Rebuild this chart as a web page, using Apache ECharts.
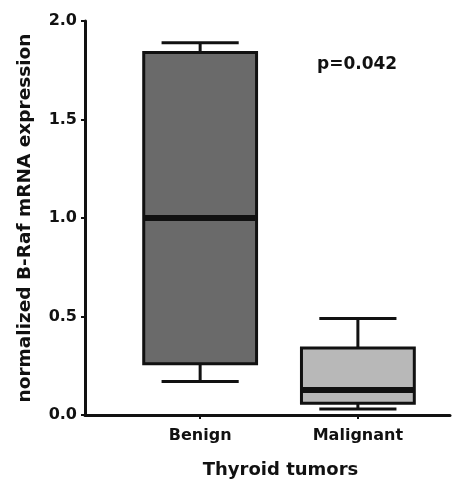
<!DOCTYPE html>
<html>
<head>
<meta charset="utf-8">
<script src="https://cdn.jsdelivr.net/npm/echarts@6/dist/echarts.min.js"></script>
<style>
  html, body { margin: 0; padding: 0; background: #fff; }
  #chart { width: 464px; height: 480px; }
</style>
</head>
<body>
<div id="chart"></div>
<script>
var groups = ['Benign', 'Malignant'];
// position of each group along the x axis (data units)
var groupPos = [1, 2.37];
// min, Q1, median, Q3, max
var benignBox = [0.17, 0.26, 1.0, 1.84, 1.89];
var malignantBox = [0.03, 0.06, 0.127, 0.34, 0.49];
var boxColors = ['#6a6a6a', '#b8b8b8'];
var yTicks = [0, 0.5, 1.0, 1.5, 2.0];

(function () {
    var myChart = echarts.init(document.getElementById('chart'));
    var font = 'DejaVu Sans';
    var boxes = [benignBox, malignantBox];
    var data = boxes.map(function (b, i) {
        return [groupPos[i]].concat(b);
    });

    function renderBox(params, api) {
        var x = api.value(0);
        var lo = api.coord([x, api.value(1)]);
        var q1 = api.coord([x, api.value(2)]);
        var med = api.coord([x, api.value(3)]);
        var q3 = api.coord([x, api.value(4)]);
        var hi = api.coord([x, api.value(5)]);
        var unit = api.size([1, 0])[0];
        var bw = unit * 0.98;
        var cw = unit * 0.67;
        var cx = q1[0];
        var line = { stroke: '#111', lineWidth: 3 };
        return {
            type: 'group',
            children: [
                { type: 'line', shape: { x1: cx, y1: q3[1], x2: cx, y2: hi[1] }, style: line },
                { type: 'line', shape: { x1: cx - cw / 2, y1: hi[1], x2: cx + cw / 2, y2: hi[1] }, style: line },
                { type: 'line', shape: { x1: cx, y1: q1[1], x2: cx, y2: lo[1] }, style: line },
                { type: 'line', shape: { x1: cx - cw / 2, y1: lo[1], x2: cx + cw / 2, y2: lo[1] }, style: line },
                {
                    type: 'rect',
                    shape: { x: cx - bw / 2, y: q3[1], width: bw, height: q1[1] - q3[1] },
                    style: { fill: boxColors[params.dataIndex], stroke: '#111', lineWidth: 3 }
                },
                { type: 'line', shape: { x1: cx - bw / 2, y1: med[1], x2: cx + bw / 2, y2: med[1] }, style: { stroke: '#111', lineWidth: 6 } }
            ]
        };
    }

    var option = {
        animation: false,
        backgroundColor: '#fff',
        title: {
            text: 'p=0.042',
            left: 312,
            top: 51,
            textStyle: { fontFamily: font, fontWeight: 'bold', fontSize: 17, color: '#111' }
        },
        grid: { left: 85, right: 14, top: 21, bottom: 65, outerBoundsMode: 'none' },
        xAxis: {
            type: 'value',
            min: 0,
            max: 3.17,
            name: 'Thyroid tumors',
            nameLocation: 'middle',
            nameGap: 46,
            nameTextStyle: { fontFamily: font, fontWeight: 'bold', fontSize: 18, color: '#111', padding: [0, 0, 0, 26] },
            axisLine: { show: true, lineStyle: { color: '#111', width: 3 } },
            axisTick: { show: true, customValues: groupPos, length: 4, lineStyle: { color: '#111', width: 2 } },
            axisLabel: {
                customValues: groupPos,
                margin: 13,
                fontFamily: font, fontWeight: 'bold', fontSize: 16, color: '#111',
                formatter: function (v) {
                    var i = groupPos.indexOf(v);
                    return i >= 0 ? groups[i] : '';
                }
            },
            splitLine: { show: false }
        },
        yAxis: {
            type: 'value',
            min: 0,
            max: 2,
            interval: 0.5,
            name: 'normalized B-Raf mRNA expression',
            nameLocation: 'middle',
            nameGap: 50,
            nameTextStyle: { fontFamily: font, fontWeight: 'bold', fontSize: 18.5, color: '#111' },
            axisLine: { show: true, lineStyle: { color: '#111', width: 3 } },
            axisTick: { show: true, length: 4, lineStyle: { color: '#111', width: 2 } },
            axisLabel: {
                margin: 8,
                fontFamily: font, fontWeight: 'bold', fontSize: 16, color: '#111',
                formatter: function (v) { return v.toFixed(1); }
            },
            splitLine: { show: false }
        },
        series: [
            {
                type: 'custom',
                renderItem: renderBox,
                encode: { x: 0, y: [1, 2, 3, 4, 5] },
                data: data
            }
        ]
    };

    myChart.setOption(option);
    window.addEventListener('resize', function () {
        myChart.resize();
    });
})();
</script>
</body>
</html>
